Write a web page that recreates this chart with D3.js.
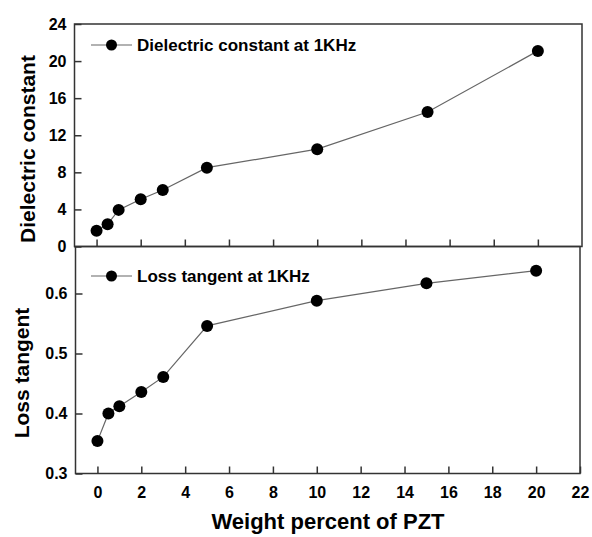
<!DOCTYPE html>
<html>
<head>
<meta charset="utf-8">
<script src="https://cdn.jsdelivr.net/npm/d3@7"></script>
<style>
  html, body { margin: 0; padding: 0; background: #fff; }
  svg { display: block; font-family: "Liberation Sans", Arial, Helvetica, sans-serif; font-weight: bold; }
</style>
</head>
<body>
<svg id="chart" width="592" height="537"></svg>
<script>
// PZT loading (wt%) and the two measured quantities at 1 kHz
const pztWt = [0, 0.5, 1, 2, 3, 5, 10, 15, 20];
const dielectric = [1.7, 2.4, 3.95, 5.1, 6.1, 8.5, 10.5, 14.5, 21.1];
const lossTangent = [0.354, 0.400, 0.412, 0.436, 0.461, 0.546, 0.588, 0.617, 0.638];

const xTicks = [0, 2, 4, 6, 8, 10, 12, 14, 16, 18, 20, 22];
const dielectricTicks = [0, 4, 8, 12, 16, 20, 24];
const lossTicks = [0.3, 0.4, 0.5, 0.6];

const svg = d3.select("#chart");
const frameColor = "#333";
const lineColor = "#666";

// Upper panel: dielectric constant
const upperBox = { left: 74.5, right: 582, top: 24, bottom: 246.5 };
const xUpper = d3.scaleLinear().domain([-1, 22]).range([upperBox.left, upperBox.right]);
const yUpper = d3.scaleLinear().domain([0, 24]).range([upperBox.bottom, upperBox.top]);

// Lower panel: loss tangent
const lowerBox = { left: 75.5, right: 580, top: 246.5, bottom: 473.5 };
const xLower = d3.scaleLinear().domain([-1, 22]).range([lowerBox.left, lowerBox.right]);
const yLower = d3.scaleLinear().domain([0.3, 0.3 + (lowerBox.bottom - lowerBox.top) / 600]).range([lowerBox.bottom, lowerBox.top]);

function styleAxis(g, fontSize) {
  g.select(".domain").remove();
  g.selectAll(".tick line").attr("stroke", frameColor).attr("stroke-width", 1.5);
  g.selectAll(".tick text")
    .attr("fill", "#000")
    .style("font-size", fontSize + "px")
    .style("font-weight", "bold")
    .style("font-family", '"Liberation Sans", Arial, sans-serif');
}

function panel(p, xs, ys, yValues, yTickVals, yFmt, showXLabels) {
  // x ticks (inward)
  const xa = d3.axisBottom(xs).tickValues(xTicks.filter(d => d < 22 || showXLabels))
    .tickSize(-7).tickPadding(13)
    .tickFormat(showXLabels ? d3.format("d") : "");
  svg.append("g").attr("transform", `translate(0,${p.bottom})`).call(xa).call(g => styleAxis(g, 16));

  // y ticks (inward)
  const ya = d3.axisLeft(ys).tickValues(yTickVals).tickSize(-7).tickPadding(8).tickFormat(yFmt);
  svg.append("g").attr("transform", `translate(${p.left},0)`).call(ya).call(g => styleAxis(g, 16));

  // frame
  svg.append("rect")
    .attr("x", p.left).attr("y", p.top)
    .attr("width", p.right - p.left).attr("height", p.bottom - p.top)
    .attr("fill", "none").attr("stroke", frameColor).attr("stroke-width", 1.5);

  // connecting line
  const line = d3.line().x((d, i) => xs(pztWt[i])).y(d => ys(d));
  svg.append("path").datum(yValues)
    .attr("d", line).attr("fill", "none")
    .attr("stroke", lineColor).attr("stroke-width", 1.2);

  // markers
  svg.append("g").selectAll("circle").data(yValues).join("circle")
    .attr("cx", (d, i) => xs(pztWt[i])).attr("cy", d => ys(d))
    .attr("r", 6).attr("fill", "#000");
}

panel(upperBox, xUpper, yUpper, dielectric, dielectricTicks, d3.format("d"), false);
panel(lowerBox, xLower, yLower, lossTangent, lossTicks, d3.format(".1f"), true);

// legends
function legend(y, label) {
  svg.append("line").attr("x1", 91).attr("x2", 132).attr("y1", y).attr("y2", y)
    .attr("stroke", lineColor).attr("stroke-width", 1.2);
  svg.append("circle").attr("cx", 111.5).attr("cy", y).attr("r", 5.5).attr("fill", "#000");
  svg.append("text").attr("x", 137).attr("y", y + 6)
    .style("font-size", "17px").attr("fill", "#000").text(label);
}
legend(45, "Dielectric constant at 1KHz");
legend(276, "Loss tangent at 1KHz");

// axis titles
svg.append("text")
  .attr("transform", "translate(35,149) rotate(-90)")
  .attr("text-anchor", "middle").style("font-size", "21px").text("Dielectric constant");
svg.append("text")
  .attr("transform", "translate(29,373) rotate(-90)")
  .attr("text-anchor", "middle").style("font-size", "21px").text("Loss tangent");
svg.append("text")
  .attr("x", 328).attr("y", 529)
  .attr("text-anchor", "middle").style("font-size", "22px").text("Weight percent of PZT");
</script>
</body>
</html>
